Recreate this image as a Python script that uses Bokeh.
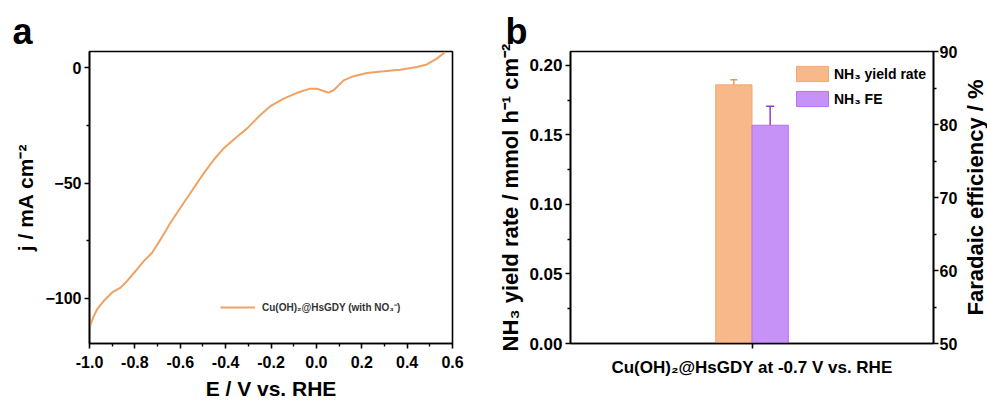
from bokeh.plotting import figure
from bokeh.models import (Range1d, FactorRange, LinearAxis, Legend, LegendItem,
                          Whisker, TeeHead, ColumnDataSource, FixedTicker, NumeralTickFormatter)
from bokeh.transform import dodge
from bokeh.layouts import row
from bokeh.embed import file_html
from bokeh.resources import INLINE

FONT = "Liberation Sans"

# ---------------- Panel a data (LSV curve) ----------------
E_V = [-1.0, -0.983, -0.966, -0.937, -0.9, -0.863, -0.834, -0.797, -0.761, -0.724, -0.687,
       -0.643, -0.6, -0.555, -0.496, -0.452, -0.408, -0.35, -0.305, -0.247, -0.203,
       -0.144, -0.085, -0.027, 0.002, 0.031, 0.053, 0.076, 0.12, 0.164, 0.223, 0.297,
       0.37, 0.443, 0.487, 0.531, 0.568]
J_mA = [-112.5, -108.0, -104.6, -101.0, -97.4, -95.3, -92.4, -88.1, -83.8, -80.2, -74.4,
        -67.2, -60.8, -54.3, -45.7, -39.9, -34.9, -29.9, -26.3, -20.5, -16.7,
        -13.4, -10.9, -9.1, -9.1, -10.1, -10.8, -9.8, -5.5, -3.7, -2.3, -1.6,
        -0.9, 0.3, 1.4, 3.9, 6.8]
lsv_label = "Cu(OH)₂@HsGDY (with NO₃⁻)"
xa_title = "E / V vs. RHE"
ya_title = "j / mA cm⁻²"
xa_ticks = [-1.0, -0.8, -0.6, -0.4, -0.2, 0.0, 0.2, 0.4, 0.6]
xa_minor = [-0.9, -0.7, -0.5, -0.3, -0.1, 0.1, 0.3, 0.5]
ya_ticks = [-100, -50, 0]
ya_minor = [-125, -75, -25]

# ---------------- Panel b data (bars) ----------------
sample = ["Cu(OH)₂@HsGDY at -0.7 V vs. RHE"]
yield_rate = [0.186]
yield_err = [0.0036]
fe = [79.9]
fe_err = [2.6]
series_names = ["NH₃ yield rate", "NH₃ FE"]
yb_title = "NH₃ yield rate / mmol h⁻¹ cm⁻²"
fe_title = "Faradaic efficiency / %"
yb_ticks = [0.0, 0.05, 0.10, 0.15, 0.20]
yb_minor = [0.025, 0.075, 0.125, 0.175]
fe_ticks = [50, 60, 70, 80, 90]
fe_minor = [55, 65, 75, 85]

LINE_COLOR = "#F0A264"
ORANGE = "#F8B88A"
ORANGE_EDGE = "#F3A772"
ORANGE_ERR = "#DC9A66"
PURPLE = "#C792F7"
PURPLE_EDGE = "#B870F3"
PURPLE_ERR = "#8B3FD2"


def style_axis(ax, size="16px", title_size="21px"):
    ax.axis_line_width = 1.6
    ax.axis_line_color = "black"
    ax.major_tick_line_width = 1.6
    ax.minor_tick_line_width = 1.4
    ax.major_tick_in = 0
    ax.major_tick_out = 5
    ax.minor_tick_in = 0
    ax.minor_tick_out = 3
    ax.major_label_text_font = FONT
    ax.major_label_text_font_style = "bold"
    ax.major_label_text_font_size = size
    ax.major_label_text_color = "black"
    ax.major_label_standoff = 3
    ax.axis_label_text_font = FONT
    ax.axis_label_text_font_style = "bold"
    ax.axis_label_text_font_size = title_size
    ax.axis_label_text_color = "black"
    ax.axis_label_standoff = 4


def letter(p, text, offset):
    p.title.text = text
    p.title.align = "left"
    p.title.offset = offset
    p.title.standoff = 0
    p.title.text_font = FONT
    p.title.text_font_style = "bold"
    p.title.text_font_size = "36px"
    p.title.text_color = "black"


# ================= Panel a =================
pa = figure(width=490, height=402, x_range=Range1d(-1.0, 0.6), y_range=Range1d(-119.5, 7),
            output_backend="svg", toolbar_location=None,
            min_border_left=89, min_border_right=38, min_border_top=51, min_border_bottom=58)
pa.xgrid.visible = False
pa.ygrid.visible = False
pa.outline_line_color = "black"
pa.outline_line_width = 1.6

src_a = ColumnDataSource(dict(E=E_V, j=J_mA))
ra = pa.line("E", "j", source=src_a, line_color=LINE_COLOR, line_width=2)

pa.xaxis.ticker = FixedTicker(ticks=xa_ticks, minor_ticks=xa_minor)
pa.xaxis.formatter = NumeralTickFormatter(format="0.0")
pa.yaxis.ticker = FixedTicker(ticks=ya_ticks, minor_ticks=ya_minor)
style_axis(pa.xaxis[0])
style_axis(pa.yaxis[0])
pa.xaxis.major_label_standoff = 7
pa.xaxis.axis_label = xa_title
pa.yaxis.axis_label = ya_title
pa.xaxis.axis_label_standoff = 6
pa.yaxis.axis_label_standoff = 5

leg_a = Legend(items=[LegendItem(label=lsv_label, renderers=[ra])], location=(131, 29),
               glyph_width=35, glyph_height=12, label_height=12, label_standoff=7,
               padding=0, margin=0, border_line_alpha=0, background_fill_alpha=0,
               label_text_font=FONT, label_text_font_style="bold",
               label_text_font_size="10px", label_text_color="#333333")
pa.add_layout(leg_a)
letter(pa, "a", -77)

# ================= Panel b =================
pb = figure(width=470, height=402, x_range=FactorRange(*sample, range_padding=0),
            y_range=Range1d(0, 0.21), output_backend="svg", toolbar_location=None,
            min_border_left=80, min_border_right=24, min_border_top=51, min_border_bottom=56)
pb.extra_y_ranges = {"fe": Range1d(50, 90)}
pb.xgrid.visible = False
pb.ygrid.visible = False
pb.outline_line_color = "black"
pb.outline_line_width = 1.6

src_b = ColumnDataSource(dict(
    sample=sample, yr=yield_rate,
    yr_lo=[v - e for v, e in zip(yield_rate, yield_err)],
    yr_hi=[v + e for v, e in zip(yield_rate, yield_err)],
    fe=fe,
    fe_lo=[v - e for v, e in zip(fe, fe_err)],
    fe_hi=[v + e for v, e in zip(fe, fe_err)],
))

r1 = pb.vbar(x=dodge("sample", -0.05, range=pb.x_range), top="yr", width=0.1, source=src_b,
             fill_color=ORANGE, line_color=ORANGE_EDGE, line_width=1)
r2 = pb.vbar(x=dodge("sample", 0.05, range=pb.x_range), top="fe", bottom=50, width=0.1,
             source=src_b, y_range_name="fe", fill_color=PURPLE, line_color=PURPLE_EDGE,
             line_width=1)

w1 = Whisker(base=dodge("sample", -0.05, range=pb.x_range), lower="yr_lo", upper="yr_hi",
             source=src_b, dimension="height", line_color=ORANGE_ERR, line_width=1.5,
             upper_head=TeeHead(size=7, line_color=ORANGE_ERR, line_width=1.5),
             lower_head=TeeHead(size=7, line_color=ORANGE_ERR, line_width=1.5))
w2 = Whisker(base=dodge("sample", 0.05, range=pb.x_range), lower="fe_lo", upper="fe_hi",
             source=src_b, dimension="height", y_range_name="fe", line_color=PURPLE_ERR,
             line_width=1.5,
             upper_head=TeeHead(size=8, line_color=PURPLE_ERR, line_width=1.5),
             lower_head=TeeHead(size=8, line_color=PURPLE_ERR, line_width=1.5))
pb.add_layout(w1)
pb.add_layout(w2)

pb.yaxis.ticker = FixedTicker(ticks=yb_ticks, minor_ticks=yb_minor)
pb.yaxis.formatter = NumeralTickFormatter(format="0.00")
style_axis(pb.yaxis[0], "17px", "22px")
style_axis(pb.xaxis[0], "17px", "22px")
pb.xaxis.major_label_standoff = 9
pb.yaxis.axis_label = yb_title
pb.yaxis.axis_label_standoff = 3

ax_r = LinearAxis(y_range_name="fe", ticker=FixedTicker(ticks=fe_ticks, minor_ticks=fe_minor))
style_axis(ax_r, "16px", "22px")
ax_r.major_label_standoff = 1
pb.add_layout(ax_r, "right")

leg_b = Legend(items=[LegendItem(label=series_names[0], renderers=[r1]),
                      LegendItem(label=series_names[1], renderers=[r2])],
               location=(222, 235), glyph_width=40, glyph_height=19, label_height=19,
               spacing=6, label_standoff=2, padding=0, margin=0,
               border_line_alpha=0, background_fill_alpha=0,
               label_text_font=FONT, label_text_font_style="bold",
               label_text_font_size="14px", label_text_color="black")
pb.add_layout(leg_b)
letter(pb, "b", -65)

# ---- strip carrying the right-hand axis title (reads bottom-to-top) ----
pc = figure(width=27, height=402, x_range=Range1d(0, 1), y_range=Range1d(50, 90),
            output_backend="svg", toolbar_location=None,
            min_border_left=0, min_border_right=0, min_border_top=51, min_border_bottom=56)
pc.xaxis.visible = False
pc.xgrid.visible = False
pc.ygrid.visible = False
pc.outline_line_alpha = 0
pc.yaxis.ticker = FixedTicker(ticks=[])
pc.yaxis.axis_line_alpha = 0
pc.yaxis.major_tick_out = 0
pc.yaxis.minor_tick_out = 0
pc.yaxis.major_label_text_font_size = "0px"
pc.yaxis.axis_label = fe_title
pc.yaxis.axis_label_standoff = 0
pc.yaxis.axis_label_text_font = FONT
pc.yaxis.axis_label_text_font_style = "bold"
pc.yaxis.axis_label_text_font_size = "22px"
pc.yaxis.axis_label_text_color = "black"

layout = row(pa, pb, pc)
open("out.html", "w").write(file_html(layout, INLINE))
